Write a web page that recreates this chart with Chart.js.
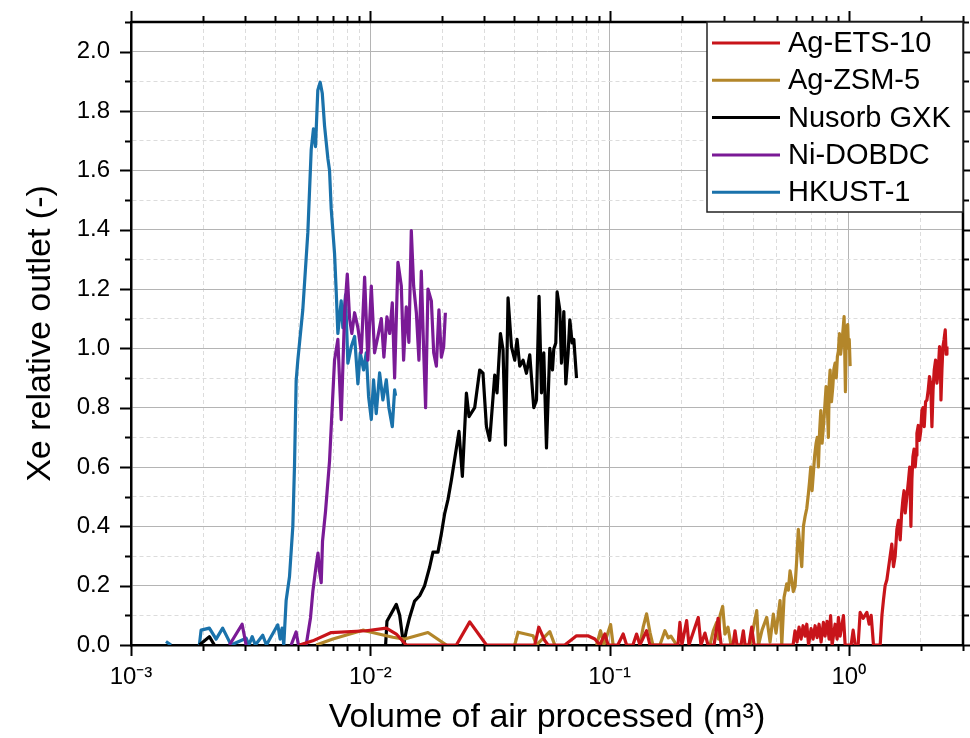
<!DOCTYPE html>
<html>
<head>
<meta charset="utf-8">
<title>Xe breakthrough</title>
<script src="https://cdn.jsdelivr.net/npm/chart.js@4.4.0/dist/chart.umd.min.js"></script>
<style>
  html, body { margin: 0; padding: 0; background: #fff; }
  #xeChart { display: block; }
</style>
</head>
<body>
<canvas id="xeChart" width="970" height="738"></canvas>
<script>
// volume of air processed (m3) and Xe relative outlet
const etsX = [5.06e-3, 5.75e-3, 6.87e-3, 9.62e-3, 1.167e-2, 1.285e-2, 1.414e-2, 2.29e-2, 2.604e-2, 3.058e-2,
  3.588e-2, 4.869e-2, 5.061e-2, 5.36e-2, 5.533e-2, 6.501e-2, 7.277e-2, 8.115e-2, 8.68e-2, 9.11e-2,
  9.56e-2, 9.865e-2, 0.1083, 0.1140, 0.1178, 0.1252, 0.1297, 0.1339, 0.1428, 0.1475,
  0.1931, 0.1968, 0.2006, 0.2100, 0.2147, 0.2348, 0.2410, 0.2505, 0.2578, 0.2734,
  0.2842, 0.2926, 0.3280, 0.3344, 0.3409, 0.3543, 0.3623, 0.3683, 0.3825, 0.3927,
  0.4016, 0.5848, 0.5959, 0.6075, 0.6194, 0.6316, 0.6439, 0.6563, 0.6672, 0.6788,
  0.6955, 0.7090, 0.7228, 0.7368, 0.7510, 0.7656, 0.7829, 0.7958, 0.8113, 0.8272,
  0.8391, 0.8514, 0.8762, 0.8933, 0.9047, 0.9197, 0.9494, 0.9651, 1.0223, 1.0423,
  1.0627, 1.0937, 1.1150, 1.1476, 1.1894, 1.2161, 1.2398, 1.2677, 1.3135,
  1.3521, 1.375, 1.3957, 1.418, 1.4421, 1.465, 1.4887, 1.512, 1.5368, 1.562,
  1.5879, 1.613, 1.6392, 1.661, 1.6824, 1.701, 1.7203, 1.748, 1.7759, 1.797,
  1.8173, 1.835, 1.8528, 1.873, 1.8942, 1.910, 1.9254, 1.950, 1.9743, 1.997,
  2.0203, 2.043, 2.0658, 2.093, 2.1201, 2.147, 2.1734, 2.199, 2.2245, 2.249,
  2.2744, 2.304, 2.3343, 2.363, 2.3936, 2.410, 2.4266, 2.450, 2.4735, 2.500,
  2.5289, 2.550, 2.5704];
const etsY = [0, 0.014, 0.042, 0.048, 0.057, 0.037, 0, 0, 0.078, 0,
  0, 0, 0.06, 0.015, 0, 0, 0.031, 0.031, 0.02, 0,
  0.037, 0, 0, 0.037, 0, 0, 0.037, 0, 0.048, 0,
  0, 0.076, 0, 0.082, 0, 0.093, 0, 0.04, 0, 0,
  0.09, 0, 0, 0.048, 0, 0, 0.048, 0, 0, 0.06,
  0, 0, 0.048, 0.01, 0.06, 0.02, 0.065, 0.03, 0.07, 0,
  0.055, 0.02, 0.065, 0.025, 0.07, 0.01, 0.076, 0.03, 0.08, 0.02,
  0.099, 0, 0.07, 0.02, 0.093, 0.03, 0.099, 0, 0, 0.05,
  0, 0, 0.11, 0.09, 0.11, 0.07, 0.1, 0, 0,
  0, 0.10, 0.152, 0.20, 0.22, 0.26, 0.30, 0.34, 0.264, 0.30,
  0.39, 0.42, 0.354, 0.44, 0.49, 0.52, 0.445, 0.50, 0.556, 0.60,
  0.40, 0.56, 0.635, 0.66, 0.60, 0.64, 0.714, 0.74, 0.69, 0.72,
  0.79, 0.80, 0.736, 0.82, 0.826, 0.86, 0.905, 0.88, 0.736, 0.86,
  0.927, 0.96, 0.883, 0.92, 1.006, 0.98, 0.826, 0.93, 1.006, 1.03,
  1.062, 0.98, 1.006];

const zsmX = [5.944e-3, 6.975e-3, 9.31e-3, 1.073e-2, 1.243e-2, 1.392e-2, 1.742e-2, 2.08e-2, 0.03, 4.016e-2,
  4.146e-2, 4.79e-2, 4.95e-2, 5.626e-2, 5.904e-2, 0.07, 8.823e-2, 9.17e-2, 9.47e-2, 0.1010,
  0.1035, 0.12, 0.1339, 0.1382, 0.1428, 0.1475, 0.1518, 0.1624, 0.1703, 0.1759,
  0.1805, 0.1907, 0.23, 0.2629, 0.2713, 0.2803, 0.2852, 0.2894, 0.2970, 0.3037,
  0.3126, 0.3217, 0.3865, 0.4122, 0.4194, 0.4337, 0.4538, 0.4685, 0.4836, 0.4963,
  0.5159, 0.5245, 0.5360, 0.5501,
  0.5587, 0.5680, 0.5772, 0.5860, 0.5959, 0.6050, 0.6151, 0.6250, 0.6356, 0.6460,
  0.6563, 0.6670, 0.6776, 0.6850, 0.6934, 0.7020, 0.7110, 0.7200, 0.7298, 0.7380,
  0.7461, 0.7550, 0.7635, 0.7730, 0.7829, 0.7930, 0.8035, 0.8120, 0.8214, 0.8280,
  0.8351, 0.8460, 0.8570, 0.8660, 0.8762, 0.8860, 0.8958, 0.9040, 0.9133, 0.9240,
  0.9346, 0.9450, 0.9555, 0.9678, 0.9740, 0.9808, 0.9890, 0.9961, 1.004, 1.0125];
const zsmY = [0, 0.02, 0.05, 0.038, 0.026, 0.02, 0.042, 0, null, 0,
  0.043, 0.031, 0, 0.045, 0, null, 0, 0.048, 0, 0.069,
  0, null, 0, 0.06, 0.105, 0.043, 0, 0, 0.048, 0.024,
  0.03, 0, null, 0, 0.048, 0.076, 0.02, 0.099, 0.13, 0.037,
  0.06, 0, 0, 0.116, 0, 0.05, 0.093, 0.01, 0.104, 0.04,
  0.15, 0, 0.16, 0.206,
  0.185, 0.25, 0.22, 0.18, 0.197, 0.28, 0.39, 0.33, 0.264, 0.40,
  0.433, 0.46, 0.51, 0.55, 0.60, 0.52, 0.58, 0.64, 0.68, 0.70,
  0.60, 0.72, 0.79, 0.68, 0.736, 0.80, 0.871, 0.82, 0.70, 0.88,
  0.927, 0.82, 0.87, 0.93, 0.95, 0.90, 0.972, 0.99, 1.05, 0.98,
  1.017, 1.06, 1.107, 0.854, 1.00, 1.073, 1.08, 1.006, 1.03, 0.94];

const gxkX = [1.931e-3, 2.126e-3, 2.231e-3, 5e-3,
  1.159e-2, 1.174e-2, 1.285e-2, 1.327e-2, 1.378e-2, 1.414e-2, 1.46e-2, 1.532e-2, 1.608e-2, 1.687e-2,
  1.77e-2, 1.828e-2, 1.918e-2, 1.982e-2, 2.046e-2, 2.112e-2, 2.183e-2, 2.348e-2, 2.426e-2, 2.522e-2,
  2.586e-2, 2.731e-2, 2.866e-2, 2.958e-2, 3.058e-2, 3.156e-2, 3.312e-2, 3.386e-2, 3.499e-2, 3.588e-2,
  3.672e-2, 3.765e-2, 3.89e-2, 4.016e-2, 4.106e-2, 4.214e-2, 4.35e-2, 4.495e-2, 4.64e-2, 4.823e-2,
  4.95e-2, 5.075e-2, 5.194e-2, 5.31e-2, 5.45e-2, 5.626e-2, 5.774e-2, 5.847e-2, 5.961e-2, 6.037e-2,
  6.194e-2, 6.298e-2, 6.44e-2, 6.565e-2, 6.712e-2, 6.823e-2, 6.975e-2, 7.09e-2, 7.277e-2];
const gxkY = [0, 0.028, 0, null,
  0, 0.08, 0.137, 0.10, 0, 0.048, 0.093, 0.148, 0.166, 0.2,
  0.262, 0.313, 0.313, 0.375, 0.443, 0.49, 0.556, 0.72, 0.568, 0.849,
  0.77, 0.80, 0.927, 0.916, 0.736, 0.69, 0.91, 0.85, 1.05, 0.995,
  0.674, 1.17, 1.006, 0.96, 1.03, 0.94, 0.96, 0.916, 0.978, 0.80,
  0.826, 1.175, 0.85, 0.985, 0.664, 1.0, 0.927, 0.998, 1.018, 1.19,
  1.13, 0.95, 1.124, 0.88, 0.985, 1.096, 1.018, 1.03, 0.90];

const dobX = [2.578e-3, 2.913e-3, 3.028e-3, 4.0e-3,
  4.67e-3, 4.90e-3, 5.01e-3, 5.397e-3, 5.627e-3, 5.753e-3, 5.944e-3, 6.048e-3, 6.135e-3, 6.237e-3,
  6.316e-3, 6.50e-3, 6.756e-3, 7.09e-3, 7.32e-3, 7.56e-3, 7.81e-3, 8.015e-3, 8.195e-3, 8.375e-3,
  8.60e-3, 8.876e-3, 9.17e-3, 9.47e-3, 9.77e-3, 1.010e-2, 1.042e-2, 1.076e-2, 1.112e-2, 1.140e-2,
  1.174e-2, 1.205e-2, 1.236e-2, 1.264e-2, 1.305e-2, 1.348e-2, 1.378e-2, 1.414e-2, 1.450e-2, 1.484e-2,
  1.518e-2, 1.558e-2, 1.597e-2, 1.634e-2, 1.671e-2, 1.703e-2, 1.742e-2, 1.80e-2, 1.841e-2, 1.889e-2,
  1.936e-2, 1.982e-2, 2.026e-2, 2.06e-2];
const dobY = [0, 0.07, 0, null,
  0, 0.044, 0, 0, 0.092, 0.18, 0.27, 0.31, 0.25, 0.21,
  0.35, 0.45, 0.62, 0.96, 1.03, 0.76, 1.12, 1.25, 1.10, 1.05,
  1.12, 1.07, 0.985, 1.24, 0.96, 1.21, 0.985, 1.04, 1.10, 0.97,
  1.106, 1.05, 1.153, 0.90, 1.29, 1.21, 0.96, 1.14, 1.02, 1.397,
  1.21, 1.12, 0.96, 1.26, 0.995, 0.80, 1.20, 1.16, 0.985, 0.94,
  1.13, 0.97, 1.005, 1.12];

const hkX = [1.40e-3, 1.47e-3, 1.7e-3, 1.931e-3, 1.963e-3, 2.126e-3, 2.268e-3, 2.416e-3, 2.62e-3, 3.028e-3,
  3.11e-3, 3.21e-3, 3.31e-3, 3.553e-3, 3.68e-3, 4.106e-3, 4.20e-3, 4.28e-3, 4.35e-3, 4.45e-3,
  4.596e-3, 4.746e-3, 4.825e-3, 4.90e-3, 4.98e-3, 5.224e-3, 5.483e-3, 5.664e-3, 5.79e-3, 5.904e-3,
  6.035e-3, 6.175e-3, 6.30e-3, 6.44e-3, 6.65e-3, 6.756e-3, 6.867e-3, 7.09e-3, 7.207e-3, 7.32e-3,
  7.56e-3, 7.68e-3, 7.88e-3, 8.06e-3, 8.33e-3, 8.60e-3, 8.876e-3, 9.08e-3, 9.376e-3, 9.62e-3,
  9.84e-3, 1.010e-2, 1.032e-2, 1.059e-2, 1.094e-2, 1.129e-2, 1.167e-2, 1.196e-2, 1.236e-2, 1.264e-2,
  1.276e-2];
const hkY = [0.012, 0, null, 0, 0.05, 0.057, 0.02, 0.057, 0, 0.023,
  0, 0.028, 0, 0.033, 0, 0.068, 0.02, 0.057, 0, 0.15,
  0.23, 0.40, 0.61, 0.89, 0.96, 1.13, 1.39, 1.67, 1.74, 1.68,
  1.87, 1.897, 1.86, 1.75, 1.64, 1.60, 1.47, 1.32, 1.19, 1.05,
  1.16, 1.07, 1.18, 0.95, 1.006, 1.04, 0.88, 0.985, 0.927, 0.985,
  0.837, 0.76, 0.894, 0.78, 0.917, 0.826, 0.894, 0.80, 0.736, 0.86,
  0.84];

const seriesLabels = ['Ag-ETS-10', 'Ag-ZSM-5', 'Nusorb GXK', 'Ni-DOBDC', 'HKUST-1'];
const seriesColors = ['#c8141a', '#b3862a', '#000000', '#7a1a96', '#1a72ab'];

const xDecades = [0.001, 0.01, 0.1, 1];
const xDecadeLabels = ['10⁻³', '10⁻²', '10⁻¹', '10⁰'];
const xMinorSteps = [2, 3, 4, 5, 6, 7, 8, 9];
const yTickValues = [0, 0.1, 0.2, 0.3, 0.4, 0.5, 0.6, 0.7, 0.8, 0.9, 1.0,
  1.1, 1.2, 1.3, 1.4, 1.5, 1.6, 1.7, 1.8, 1.9, 2.0, 2.1];
const yTickLabels = ['0.0', '0.2', '0.4', '0.6', '0.8', '1.0', '1.2', '1.4', '1.6', '1.8', '2.0'];

const X_MIN = 0.001, X_MAX = 3, Y_MIN = 0, Y_MAX = 2.1;
const FONT = '"Liberation Sans", Arial, sans-serif';
const MAJOR_GRID = '#b4b4b4';
const MINOR_GRID = '#dcdcdc';

const xTickValues = xDecades.flatMap(d => [d, ...xMinorSteps.map(m => d * m)])
  .filter(v => v >= X_MIN && v <= X_MAX * 1.0001);

function xLabel(v) {
  const i = xDecades.findIndex(d => Math.abs(v / d - 1) < 1e-6);
  return i >= 0 ? xDecadeLabels[i] : null;
}
function yLabel(v) {
  const l = yTickLabels.find(s => Math.abs(parseFloat(s) - v) < 1e-6);
  return l === undefined ? null : l;
}

function toPoints(xs, ys) {
  return xs.map((x, i) => ({ x: x, y: ys[i] }));
}

const seriesX = [etsX, zsmX, gxkX, dobX, hkX];
const seriesY = [etsY, zsmY, gxkY, dobY, hkY];

const datasets = seriesLabels.map((label, i) => ({
  label: label,
  data: toPoints(seriesX[i], seriesY[i]),
  borderColor: seriesColors[i],
  backgroundColor: seriesColors[i],
  borderWidth: 3.2,
  pointRadius: 0,
  tension: 0,
  spanGaps: false,
  borderJoinStyle: 'round'
}));

// box around the plot with tick marks on all four sides
const framePlugin = {
  id: 'frame',
  afterDraw(chart) {
    const { ctx, chartArea: a, scales } = chart;
    const xs = scales.x, ys = scales.y;
    ctx.save();
    ctx.strokeStyle = '#000';
    ctx.lineWidth = 2.5;
    ctx.beginPath();
    ctx.moveTo(a.left, a.top);
    ctx.lineTo(a.right, a.top);
    ctx.lineTo(a.right, a.bottom);
    ctx.stroke();

    ctx.lineWidth = 2;
    ctx.beginPath();
    xs.ticks.forEach(t => {
      const px = Math.round(xs.getPixelForValue(t.value)) + 0.5;
      const len = xLabel(t.value) ? 11 : 6;
      ctx.moveTo(px, a.bottom);
      ctx.lineTo(px, a.bottom + len);
      ctx.moveTo(px, a.top);
      ctx.lineTo(px, a.top - len);
    });
    ys.ticks.forEach(t => {
      const py = Math.round(ys.getPixelForValue(t.value)) + 0.5;
      const len = yLabel(t.value) ? 11 : 6;
      ctx.moveTo(a.left, py);
      ctx.lineTo(a.left - len, py);
      ctx.moveTo(a.right, py);
      ctx.lineTo(a.right + len, py);
    });
    ctx.stroke();
    ctx.restore();
  }
};

// boxed legend in the upper right corner of the plot
const boxLegendPlugin = {
  id: 'boxLegend',
  afterDraw(chart) {
    const { ctx, chartArea: a } = chart;
    const left = 707, top = a.top, right = a.right, bottom = 212;
    ctx.save();
    ctx.fillStyle = '#fff';
    ctx.fillRect(left, top, right - left, bottom - top);
    ctx.strokeStyle = '#222';
    ctx.lineWidth = 1.5;
    ctx.strokeRect(left, top, right - left, bottom - top);
    ctx.font = '29px ' + FONT;
    ctx.textBaseline = 'middle';
    ctx.textAlign = 'left';
    chart.data.datasets.forEach((ds, i) => {
      const cy = top + 21 + i * 37.3;
      ctx.strokeStyle = ds.borderColor;
      ctx.lineWidth = 3;
      ctx.beginPath();
      ctx.moveTo(712, cy);
      ctx.lineTo(780, cy);
      ctx.stroke();
      ctx.fillStyle = '#000';
      ctx.fillText(ds.label, 788, cy + 1);
    });
    ctx.restore();
  }
};

const config = {
  type: 'line',
  data: { datasets: datasets },
  options: {
    responsive: false,
    animation: false,
    devicePixelRatio: 1,
    layout: { padding: { top: 22, right: 7, left: 0, bottom: 0 } },
    plugins: {
      legend: { display: false },
      tooltip: { enabled: false }
    },
    scales: {
      x: {
        type: 'logarithmic',
        min: X_MIN,
        max: X_MAX,
        afterBuildTicks: scale => { scale.ticks = xTickValues.map(v => ({ value: v })); },
        afterFit: scale => {
          scale.height = 93;
          scale.paddingLeft = 0;
          scale.paddingRight = 0;
        },
        ticks: {
          autoSkip: false,
          maxRotation: 0,
          padding: 18,
          color: '#000',
          font: { family: FONT, size: 24 },
          callback: v => xLabel(v) || ''
        },
        grid: {
          drawTicks: false,
          lineWidth: 1,
          color: c => (c.tick && xLabel(c.tick.value)) ? MAJOR_GRID : MINOR_GRID
        },
        border: {
          color: '#000',
          width: 2.5,
          dash: c => (c.tick && !xLabel(c.tick.value)) ? [4, 3] : []
        },
        title: {
          display: true,
          text: 'Volume of air processed (m³)',
          color: '#000',
          font: { family: FONT, size: 34 },
          padding: { top: 0, bottom: 0 }
        }
      },
      y: {
        type: 'linear',
        min: Y_MIN,
        max: Y_MAX,
        afterBuildTicks: scale => { scale.ticks = yTickValues.map(v => ({ value: v })); },
        afterFit: scale => {
          scale.width = 131;
          scale.paddingTop = 0;
          scale.paddingBottom = 0;
        },
        ticks: {
          autoSkip: false,
          padding: 21,
          color: '#000',
          font: { family: FONT, size: 24 },
          callback: v => yLabel(v) || ''
        },
        grid: {
          drawTicks: false,
          lineWidth: 1,
          color: c => (c.tick && yLabel(c.tick.value)) ? MAJOR_GRID : MINOR_GRID
        },
        border: {
          color: '#000',
          width: 2.5,
          dash: c => (c.tick && !yLabel(c.tick.value)) ? [4, 3] : []
        },
        title: {
          display: true,
          text: 'Xe relative outlet (-)',
          color: '#000',
          font: { family: FONT, size: 34 },
          padding: { top: 20, bottom: 0 }
        }
      }
    }
  },
  plugins: [framePlugin, boxLegendPlugin]
};

const xeChart = new Chart(document.getElementById('xeChart'), config);
</script>
</body>
</html>
